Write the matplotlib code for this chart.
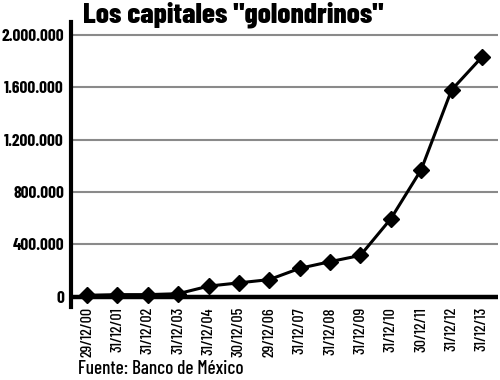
import matplotlib
matplotlib.use("Agg")
import matplotlib.pyplot as plt
from matplotlib.ticker import FuncFormatter

fechas = ["29/12/00", "31/12/01", "31/12/02", "31/12/03", "31/12/04", "30/12/05",
          "29/12/06", "31/12/07", "31/12/08", "31/12/09", "31/12/10", "30/12/11",
          "31/12/12", "31/12/13"]
valores = [10000, 15000, 15000, 22000, 80000, 105000, 130000, 216000, 267000,
           315000, 595000, 970000, 1580000, 1832000]
yticks = [0, 400000, 800000, 1200000, 1600000, 2000000]
titulo = 'Los capitales "golondrinos"'
fuente = "Fuente: Banco de México"

plt.rcParams['font.family'] = ['Barlow Condensed', 'DejaVu Sans']

fig = plt.figure(figsize=(5, 3.8), dpi=100)
ax = fig.add_axes([0.142, 0.192, 0.854, 0.750])

x = list(range(len(fechas)))
ax.set_ylim(-80000, 2100000)
ax.set_xlim(-0.53, 13.53)

for v in yticks[1:]:
    ax.axhline(v, color="#8a8a8a", lw=1.5, zorder=1)
ax.axhline(0, color="black", lw=3.2, zorder=2)

ax.plot(x, valores, color="black", lw=2.2, marker="D", markersize=8,
        markerfacecolor="black", markeredgecolor="black", zorder=3)

for s in ["top", "right", "bottom"]:
    ax.spines[s].set_visible(False)
ax.spines["left"].set_linewidth(3)

ax.set_yticks(yticks)
ax.yaxis.set_major_formatter(FuncFormatter(lambda v, p: f"{int(v):,}".replace(",", ".")))
ax.tick_params(axis="y", length=0, pad=5, labelsize=12.5)
for lab in ax.get_yticklabels():
    lab.set_fontweight("bold")

ax.set_xticks(x)
ax.set_xticklabels(fechas, rotation=90, fontsize=11.5, fontweight="medium")
ax.tick_params(axis="x", length=0, pad=0)

fig.text(0.166, 0.962, titulo, fontsize=21, fontweight="heavy", ha="left", va="center")
fig.text(0.156, 0.005, fuente, fontsize=13.8, fontweight="medium", ha="left", va="bottom")

fig.savefig("out.png", dpi=100)
